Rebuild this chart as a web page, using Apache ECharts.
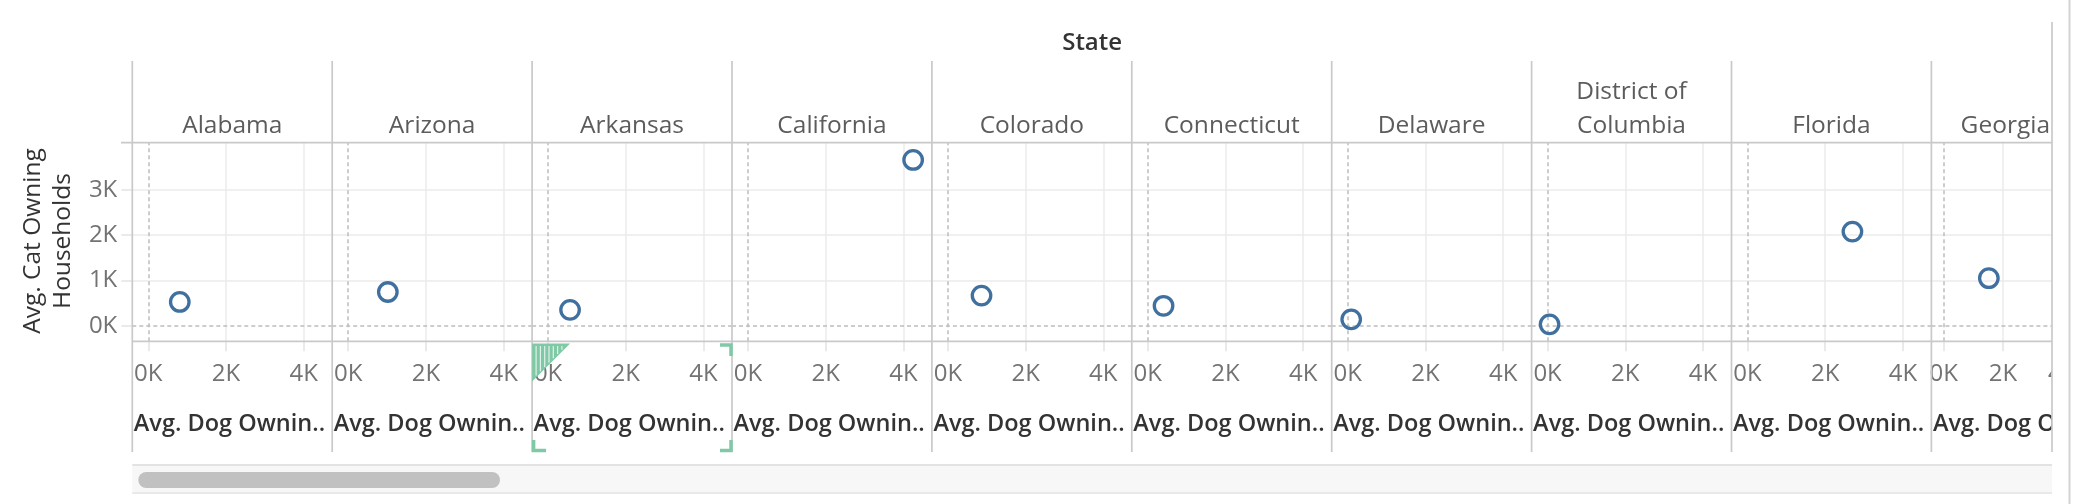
<!DOCTYPE html>
<html>
<head>
<meta charset="utf-8">
<script src="https://cdn.jsdelivr.net/npm/echarts@6/dist/echarts.min.js"></script>
<style>
html,body{margin:0;padding:0;background:#fff;}
#chart{width:2084px;height:504px;}
</style>
</head>
<body>
<div id="chart"></div>
<script>
// ---------- data ----------
const states = ['Alabama','Arizona','Arkansas','California','Colorado','Connecticut','Delaware','District of\nColumbia','Florida','Georgia'];
const dogOwning = [810, 1020, 565, 4250, 865, 405, 90, 50, 2700, 1525];
const catOwning = [525, 745, 350, 3665, 665, 440, 140, 30, 2080, 1050];
const xTickValues = [0, 2000, 4000];
const yTickValues = [0, 1000, 2000, 3000];
const columnTitle = 'State';
const xTitle = 'Avg. Dog Ownin..';
const yTitle = 'Avg. Cat Owning\nHouseholds';

// ---------- layout ----------
const FONT = '"Open Sans", "Noto Sans", sans-serif';
const P0 = 132.3, PW = 199.9, TOP = 142.7, BOT = 341.3, CLIP = 2052;
const X_MIN = -412, X_MAX = 4733, Y_MIN = -345, Y_MAX = 4046;
const LINE = '#c9c9c9', GRIDC = '#ebebeb', DASHC = '#bdbdbd';
const kfmt = v => (v / 1000) + 'K';

const grids = [], xAxes = [], yAxes = [], series = [];
states.forEach((s, i) => {
  grids.push({left: P0 + i * PW, top: TOP, width: PW, height: BOT - TOP});
  xAxes.push({
    gridIndex: i, type: 'value', min: X_MIN, max: X_MAX,
    axisLine: {show: false, onZero: false},
    splitLine: {show: false},
    axisTick: {show: true, length: 10, customValues: xTickValues, lineStyle: {color: '#e4e4e4', width: 1.5}},
    axisLabel: {customValues: xTickValues, formatter: kfmt, margin: 21, color: '#737373', fontSize: 24, fontFamily: FONT}
  });
  yAxes.push({
    gridIndex: i, type: 'value', min: Y_MIN, max: Y_MAX,
    axisLine: {show: false, onZero: false},
    splitLine: {show: false},
    axisTick: {show: i === 0, length: 11, customValues: yTickValues, lineStyle: {color: '#e4e4e4', width: 1.5}},
    axisLabel: {show: i === 0, customValues: yTickValues, formatter: kfmt, margin: 15, color: '#737373', fontSize: 24, fontFamily: FONT}
  });
  const solid = {color: GRIDC, width: 1.5, type: 'solid'};
  const dashed = {color: DASHC, width: 1.5, type: [4, 3]};
  series.push({
    type: 'scatter', xAxisIndex: i, yAxisIndex: i, data: [], silent: true, z: 1,
    markLine: {
      silent: true, symbol: 'none', animation: false, label: {show: false},
      emphasis: {disabled: true},
      data: [
        ...xTickValues.filter(v => v !== 0).map(v => ({xAxis: v, lineStyle: solid})),
        ...yTickValues.filter(v => v !== 0).map(v => ({yAxis: v, lineStyle: solid})),
        {xAxis: 0, lineStyle: dashed},
        {yAxis: 0, lineStyle: dashed}
      ]
    }
  });
  series.push({
    type: 'scatter', xAxisIndex: i, yAxisIndex: i, z: 5,
    data: [[dogOwning[i], catOwning[i]]],
    symbol: 'circle', symbolSize: 18.5,
    itemStyle: {color: 'rgba(255,255,255,0)', borderColor: '#40709f', borderWidth: 3.3, opacity: 1}
  });
});

// ---------- frame / text graphics ----------
const g = [];
const Z = 100;
const hline = (x1, x2, y, color, w) => g.push({type: 'line', z: Z, silent: true, shape: {x1, y1: y, x2, y2: y}, style: {stroke: color, lineWidth: w}});
const vline = (x, y1, y2, color, w) => g.push({type: 'line', z: Z, silent: true, shape: {x1: x, y1, x2: x, y2}, style: {stroke: color, lineWidth: w}});

// cover beyond clip edge
g.push({type: 'rect', z: Z - 1, silent: true, shape: {x: CLIP, y: 0, width: 2084 - CLIP, height: 504}, style: {fill: '#ffffff'}});

// headers & axis titles
states.forEach((s, i) => {
  const left = P0 + i * PW;
  let cx = left + PW / 2, align = 'center';
  if (cx + 50 > CLIP) { cx = CLIP - 2; align = 'right'; }
  g.push({type: 'text', z: Z, silent: true, x: cx, y: 143,
    style: {text: s, fill: '#5c5c5c', font: '24.5px ' + FONT, align: align, verticalAlign: 'bottom', lineHeight: 34}});
  g.push({type: 'text', z: Z - 2, silent: true, x: left + 1.5, y: 424,
    style: {text: xTitle, fill: '#333333', font: '600 23.5px ' + FONT, align: 'left', verticalAlign: 'middle'}});
  vline(left, 61, 452, LINE, 1.7);
});
vline(CLIP, 22, 452, LINE, 1.7);
hline(121, CLIP, TOP, LINE, 1.7);
hline(P0, CLIP, BOT, LINE, 1.8);

g.push({type: 'text', z: Z, silent: true, x: (P0 + CLIP) / 2, y: 43,
  style: {text: columnTitle, fill: '#333333', font: '600 24px ' + FONT, align: 'center', verticalAlign: 'middle'}});
g.push({type: 'text', z: Z, silent: true, x: 48.5, y: 241, rotation: Math.PI / 2,
  style: {text: yTitle, fill: '#333333', font: '24.5px ' + FONT, align: 'center', verticalAlign: 'middle', lineHeight: 30}});

// scrollbar
g.push({type: 'rect', z: Z, silent: true, shape: {x: P0, y: 465, width: CLIP - P0, height: 28}, style: {fill: '#f7f7f7'}});
hline(P0, CLIP, 465, '#e3e3e3', 2);
hline(P0, CLIP, 493, '#e9e9e9', 2);
g.push({type: 'rect', z: Z, silent: true, shape: {x: 138.3, y: 472, width: 361.7, height: 16, r: 8}, style: {fill: '#c1c1c1'}});

// right edge line
vline(2069.5, 0, 504, '#d4d4d4', 2);

// selection marker (Arkansas axis)
const GREEN = '#80c9a6';
const aL = P0 + 2 * PW, aR = P0 + 3 * PW;
g.push({type: 'polygon', z: Z + 1, silent: true, shape: {points: [[aL, 343.5], [aL + 38, 343.5], [aL, 381.5]]}, style: {fill: GREEN}});
for (let k = 0; k < 8; k++) {
  const x = aL + 4 + k * 4.3;
  const yb = 343.5 + (aL + 38 - x) - 2;
  if (yb > 347) g.push({type: 'line', z: Z + 2, silent: true, shape: {x1: x, y1: 346, x2: x, y2: yb}, style: {stroke: 'rgba(255,255,255,0.75)', lineWidth: 1.2}});
}
const poly = pts => g.push({type: 'polyline', z: Z + 1, silent: true, shape: {points: pts}, style: {stroke: GREEN, lineWidth: 3.5, fill: null}});
poly([[aR - 12, 345], [aR - 1, 345], [aR - 1, 356]]);
poly([[aL + 1.5, 440], [aL + 1.5, 450.5], [aL + 14, 450.5]]);
poly([[aR - 12, 450.5], [aR - 1, 450.5], [aR - 1, 440]]);

const chart = echarts.init(document.getElementById('chart'), null, {renderer: 'canvas'});
chart.setOption({
  animation: false,
  backgroundColor: '#ffffff',
  grid: grids, xAxis: xAxes, yAxis: yAxes, series: series,
  graphic: {elements: g}
});
</script>
</body>
</html>
